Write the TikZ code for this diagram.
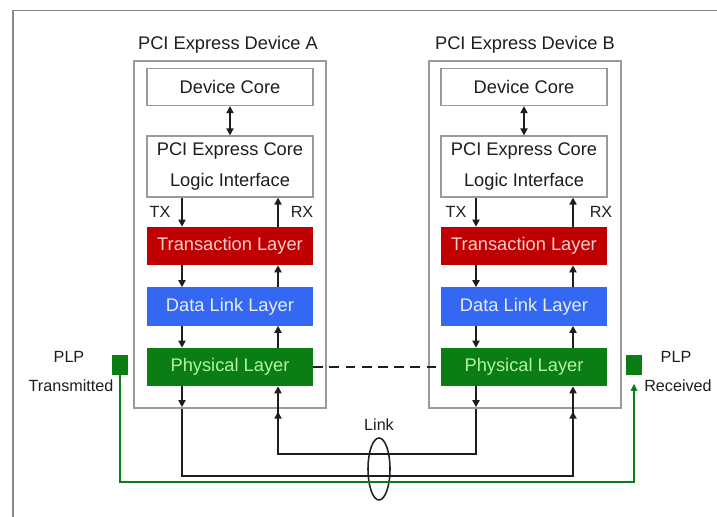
\documentclass[tikz,border=0pt]{standalone}
\usepackage{fontspec}
\setmainfont{Liberation Sans}
\usepackage{tikz}
\usetikzlibrary{shapes.geometric,arrows.meta,positioning,calc}
\definecolor{tlRed}{HTML}{C00000}
\definecolor{tlText}{HTML}{F6CFCF}
\definecolor{dlBlue}{HTML}{3468F2}
\definecolor{dlText}{HTML}{E6ECF8}
\definecolor{plGreen}{HTML}{0A7D14}
\definecolor{plText}{HTML}{B2F4A6}
\definecolor{frameGray}{HTML}{8A8A8A}
\definecolor{boxGray}{HTML}{9A9A9A}
\definecolor{inkDark}{HTML}{1E1E1E}

\tikzset{
  devbox/.style={draw=boxGray, line width=0.8pt, minimum width=4.8cm, minimum height=8.675cm},
  corebox/.style={draw=boxGray, line width=0.8pt, fill=white, minimum width=4.15cm, text=inkDark, font=\fontsize{13}{22}\selectfont},
  layerbox/.style={draw=none, minimum width=4.15cm, minimum height=0.95cm, font=\fontsize{13}{15}\selectfont},
  sig/.style={line width=1.6pt, draw=inkDark, -{Triangle[length=5pt,width=5pt]}},
  bus/.style={line width=1.6pt, draw=inkDark},
  lbl/.style={text=inkDark, font=\fontsize{11.5}{13}\selectfont},
  ttl/.style={text=inkDark, font=\fontsize{13}{15}\selectfont}
}

\begin{document}
\begin{tikzpicture}[x=0.025cm, y=-0.025cm]
    \useasboundingbox (0,0) rectangle (717,517);
    % Outer frame
    \draw[frameGray, line width=1pt] (13,517) -- (13,10.5) -- (717,10.5);

    % Device A
    \node[devbox] (devA) at (230,234.5) {};
    \node[ttl] (ttlA) at (228,45) {PCI Express Device A};
    \node[corebox, minimum height=0.925cm] (dcA) at (230,87) {Device Core};
    \node[corebox, minimum height=1.525cm, align=center] (pcA) at (230,166.5) {PCI Express Core\\Logic Interface};
    \node[layerbox, fill=tlRed, text=tlText] (tlA) at (230,246) {Transaction Layer};
    \node[layerbox, fill=dlBlue, text=dlText] (dlA) at (230,306.5) {Data Link Layer};
    \node[layerbox, fill=plGreen, text=plText] (plA) at (230,367) {Physical Layer};
    \node[lbl] (txA) at (160,212) {TX};
    \node[lbl] (rxA) at (302,212) {RX};
    \coordinate (lxA) at (182,0);
    \coordinate (rxlA) at (278,0);

    % Device B
    \node[devbox] (devB) at (525,234.5) {};
    \node[ttl] (ttlB) at (525,45) {PCI Express Device B};
    \node[corebox, minimum height=0.925cm] (dcB) at (524,87) {Device Core};
    \node[corebox, minimum height=1.525cm, align=center] (pcB) at (524,166.5) {PCI Express Core\\Logic Interface};
    \node[layerbox, fill=tlRed, text=tlText] (tlB) at (524,246) {Transaction Layer};
    \node[layerbox, fill=dlBlue, text=dlText] (dlB) at (524,306.5) {Data Link Layer};
    \node[layerbox, fill=plGreen, text=plText] (plB) at (524,367) {Physical Layer};
    \node[lbl] (txB) at (456,212) {TX};
    \node[lbl] (rxB) at (601,212) {RX};
    \coordinate (lxB) at (476,0);
    \coordinate (rxlB) at (573,0);

    % Stack arrows
    \draw[sig, {Triangle[length=5pt,width=5pt]}-{Triangle[length=5pt,width=5pt]}] (dcA) -- (pcA);
    \draw[sig, {Triangle[length=5pt,width=5pt]}-{Triangle[length=5pt,width=5pt]}] (dcB) -- (pcB);
    \foreach \d in {A,B}{
      \draw[sig] (pc\d.south -| lx\d) -- (tl\d.north -| lx\d);
      \draw[sig] (tl\d.south -| lx\d) -- (dl\d.north -| lx\d);
      \draw[sig] (dl\d.south -| lx\d) -- (pl\d.north -| lx\d);
      \draw[sig] (pl\d.north -| rxl\d) -- (dl\d.south -| rxl\d);
      \draw[sig] (dl\d.north -| rxl\d) -- (tl\d.south -| rxl\d);
      \draw[sig] (tl\d.north -| rxl\d) -- (pc\d.south -| rxl\d);
      \draw[sig, shorten >=1pt] (pl\d.south -| lx\d) -- (dev\d.south -| lx\d);
    }

    % Dashed physical link
    \draw[inkDark, line width=2pt, dash pattern=on 7pt off 4.5pt] (plA.east) -- (plB.west);

    % Link wires
    \coordinate (busHi) at (0,454);
    \coordinate (busLo) at (0,476);
    \draw[bus] (devA.south -| lxA) -- (lxA |- busLo) -- (rxlB |- busLo) -- ($(devB.south -| rxlB)+(0,3)$);
    \draw[sig] ($(devB.south -| rxlB)+(0,12)$) -- ($(devB.south -| rxlB)+(0,3)$);
    \draw[sig] ($(devB.south -| rxlB)+(0,3)$) -- (plB.south -| rxlB);
    \draw[bus] (devB.south -| lxB) -- (lxB |- busHi) -- (rxlA |- busHi) -- ($(devA.south -| rxlA)+(0,3)$);
    \draw[sig] ($(devA.south -| rxlA)+(0,12)$) -- ($(devA.south -| rxlA)+(0,3)$);
    \draw[sig] ($(devA.south -| rxlA)+(0,3)$) -- (plA.south -| rxlA);
    \node[draw=inkDark, line width=1.1pt, ellipse, minimum width=0.55cm, minimum height=1.55cm, inner sep=0pt] (lnk) at (379,469) {};
    \node[lbl] (lnkTxt) at (379,425) {Link};

    % PLP markers
    \node[fill=plGreen, minimum width=0.38cm, minimum height=0.5cm, inner sep=0pt] (plpA) at (120,365) {};
    \node[fill=plGreen, minimum width=0.42cm, minimum height=0.5cm, inner sep=0pt] (plpB) at (634,365) {};
    \node[lbl] (plpAt) at (69,357) {PLP};
    \node[lbl] (plpAs) at (71,386) {Transmitted};
    \node[lbl] (plpBt) at (676,357) {PLP};
    \node[lbl] (plpBs) at (678,386) {Received};
    \coordinate (busPlp) at (0,482);
    \draw[plGreen, line width=1.2pt, -{Triangle[length=5pt,width=4.5pt]}, shorten >=6pt] (plpA.south) -- (plpA |- busPlp) -- (plpB |- busPlp) -- (plpB.south);
\end{tikzpicture}
\end{document}
